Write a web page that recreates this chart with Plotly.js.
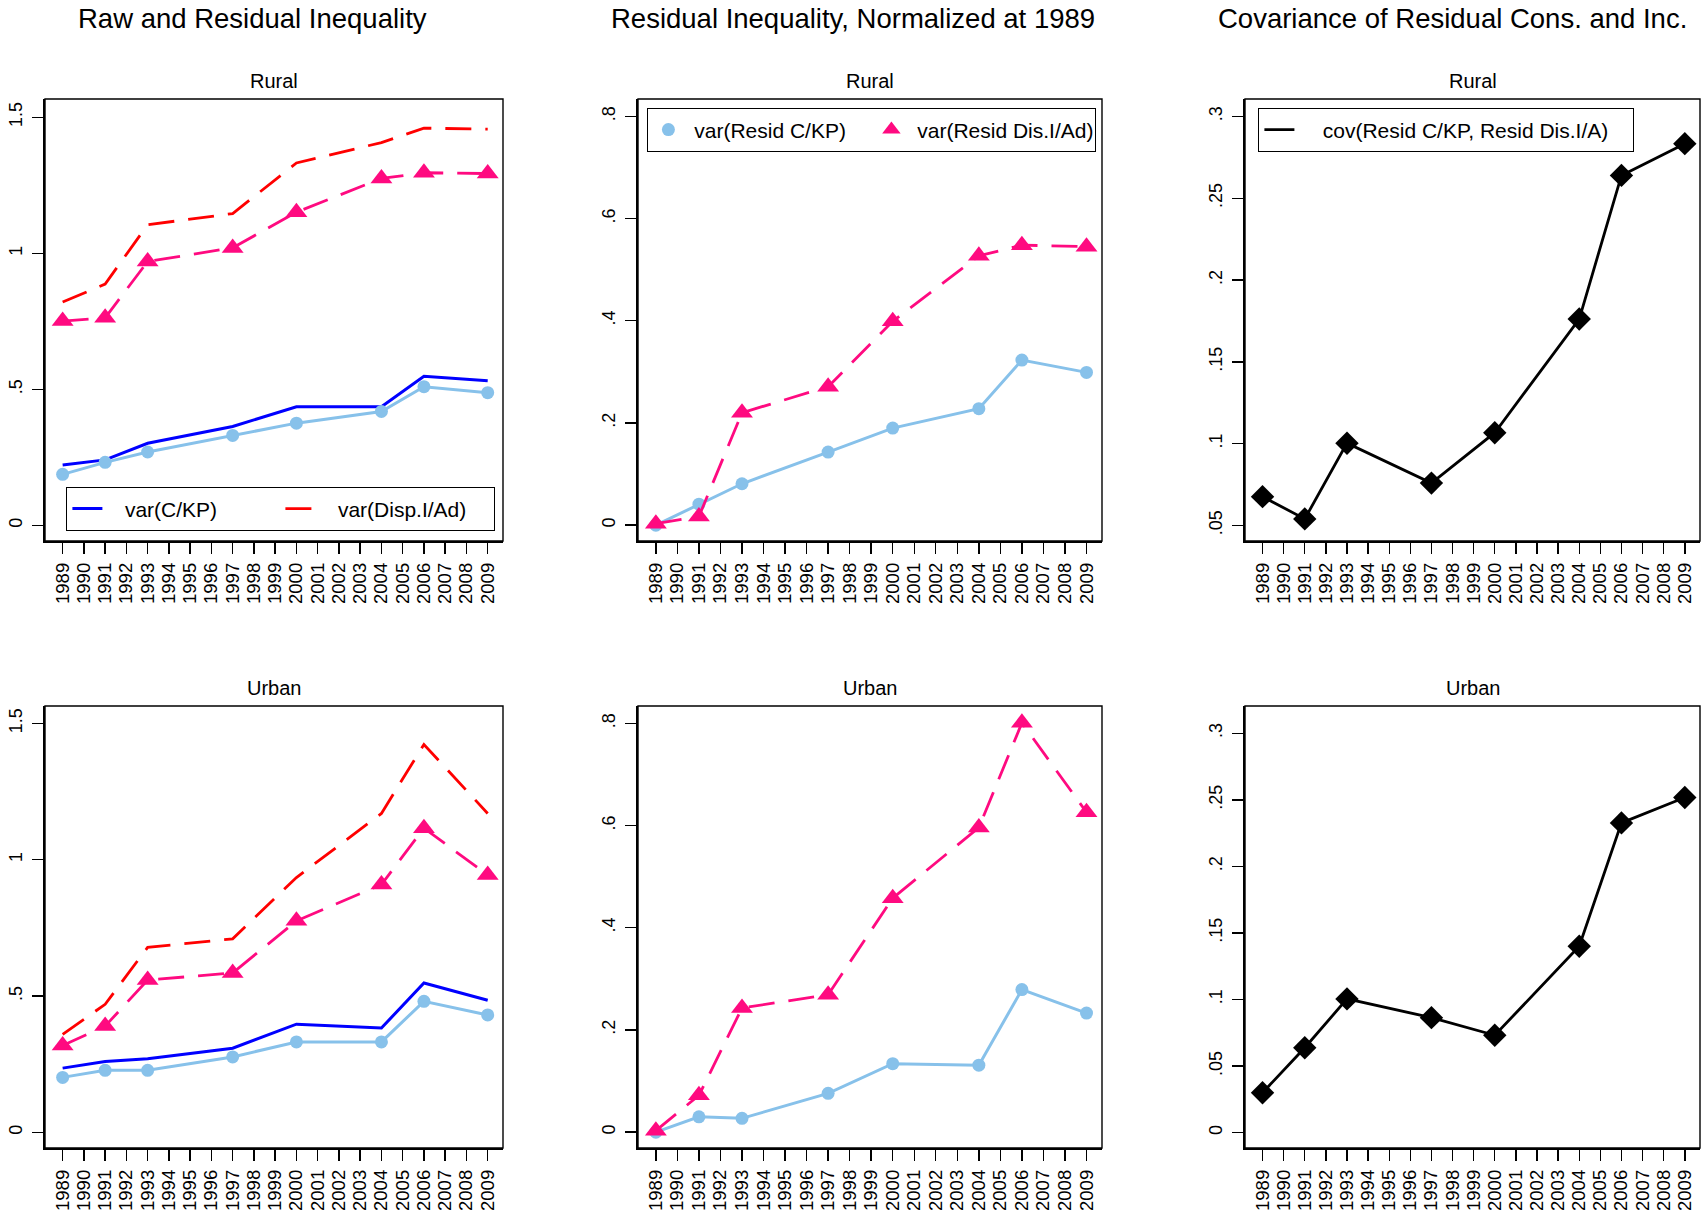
<!DOCTYPE html>
<html>
<head>
<meta charset="utf-8">
<script src="https://cdn.plot.ly/plotly-3.0.1.min.js"></script>
<style>html,body{margin:0;padding:0;background:#fff;}#chart{width:1708px;height:1215px;}</style>
</head>
<body>
<div id="chart"></div>
<script>
// ---- data ----
const years = [1989, 1991, 1993, 1997, 2000, 2004, 2006, 2009];
const tickYears = [1989,1990,1991,1992,1993,1994,1995,1996,1997,1998,1999,2000,2001,2002,2003,2004,2005,2006,2007,2008,2009];
const tickYearLabels = ["1989","1990","1991","1992","1993","1994","1995","1996","1997","1998","1999","2000","2001","2002","2003","2004","2005","2006","2007","2008","2009"];

const ruralVarC      = [0.222, 0.241, 0.302, 0.364, 0.436, 0.436, 0.548, 0.532];
const ruralVarCResid = [0.188, 0.232, 0.270, 0.331, 0.376, 0.419, 0.510, 0.488];
const ruralVarI      = [0.821, 0.887, 1.105, 1.146, 1.332, 1.407, 1.460, 1.456];
const ruralVarIResid = [0.751, 0.763, 0.970, 1.020, 1.151, 1.275, 1.296, 1.293];
const ruralNormC     = [0.000, 0.041, 0.081, 0.143, 0.190, 0.228, 0.323, 0.299];
const ruralNormI     = [0.003, 0.017, 0.220, 0.271, 0.399, 0.527, 0.548, 0.545];
const ruralCov       = [0.0676, 0.0540, 0.1003, 0.0759, 0.1067, 0.1762, 0.2640, 0.2834];

const urbanVarC      = [0.236, 0.260, 0.270, 0.309, 0.397, 0.383, 0.548, 0.485];
const urbanVarCResid = [0.202, 0.228, 0.228, 0.277, 0.332, 0.332, 0.481, 0.431];
const urbanVarI      = [0.360, 0.470, 0.679, 0.710, 0.935, 1.170, 1.423, 1.170];
const urbanVarIResid = [0.319, 0.390, 0.559, 0.585, 0.776, 0.909, 1.116, 0.944];
const urbanNormC     = [0.000, 0.030, 0.027, 0.076, 0.134, 0.131, 0.279, 0.233];
const urbanNormI     = [0.003, 0.072, 0.243, 0.269, 0.458, 0.596, 0.801, 0.626];
const urbanCov       = [0.0300, 0.0638, 0.1005, 0.0864, 0.0732, 0.1400, 0.2327, 0.2518];

const rawTickVals = [0, 0.5, 1, 1.5];      const rawTickText = ["0", ".5", "1", "1.5"];
const normTickVals = [0, 0.2, 0.4, 0.6, 0.8]; const normTickText = ["0", ".2", ".4", ".6", ".8"];
const covRuralTickVals = [0.05, 0.1, 0.15, 0.2, 0.25, 0.3]; const covRuralTickText = [".05", ".1", ".15", ".2", ".25", ".3"];
const covUrbanTickVals = [0, 0.05, 0.1, 0.15, 0.2, 0.25, 0.3]; const covUrbanTickText = ["0", ".05", ".1", ".15", ".2", ".25", ".3"];

const mainTitles = ["Raw and Residual Inequality", "Residual Inequality, Normalized at 1989", "Covariance of Residual Cons. and Inc."];
const legendNames = {
  varC: "var(C/KP)", varI: "var(Disp.I/Ad)",
  normC: "var(Resid C/KP)", normI: "var(Resid Dis.I/Ad)",
  cov: "cov(Resid C/KP, Resid Dis.I/A)"
};

// ---- styles ----
const BLUE = "#0000ff", LTBLUE = "#87c1ea", RED = "#ff0000", PINK = "#ff0a80";
const FONT = "Liberation Sans, Arial, sans-serif";
const DASH = "26px,14px";
const NB = "\u00a0";
function pad(n) { return NB.repeat(n); }

function blueLine(x, y, ax, leg) {
  return {x, y, xaxis: "x"+ax, yaxis: "y"+ax, mode: "lines", name: pad(3) + legendNames.varC,
    line: {color: BLUE, width: 3}, showlegend: !!leg, legend: "legend"};
}
function ltLine(x, y, ax, name) {
  return {x, y, xaxis: "x"+ax, yaxis: "y"+ax, mode: "lines+markers", name: name, showlegend: false,
    line: {color: LTBLUE, width: 3}, marker: {color: LTBLUE, size: 13, symbol: "circle"}};
}
function redLine(x, y, ax, leg) {
  return {x, y, xaxis: "x"+ax, yaxis: "y"+ax, mode: "lines", name: pad(3) + legendNames.varI,
    line: {color: RED, width: 2.8, dash: DASH}, showlegend: !!leg, legend: "legend"};
}
function pinkLine(x, y, ax, name) {
  return {x, y, xaxis: "x"+ax, yaxis: "y"+ax, mode: "lines+markers", name: name, showlegend: false,
    line: {color: PINK, width: 2.8, dash: DASH}, marker: {color: PINK, size: 19, symbol: "triangle-up"}};
}
function covLine(x, y, ax) {
  return {x, y, xaxis: "x"+ax, yaxis: "y"+ax, mode: "lines+markers", name: legendNames.cov, showlegend: false,
    line: {color: "#000", width: 2.8}, marker: {color: "#000", size: 18, symbol: "diamond"}};
}

const traces = [
  blueLine(years, ruralVarC, 1, true),
  redLine(years, ruralVarI, 1, true),
  ltLine(years, ruralVarCResid, 1, "resid C"),
  pinkLine(years, ruralVarIResid, 1, "resid I"),
  ltLine(years, ruralNormC, 2, legendNames.normC),
  pinkLine(years, ruralNormI, 2, legendNames.normI),
  covLine(years, ruralCov, 3),
  blueLine(years, urbanVarC, 4, false),
  redLine(years, urbanVarI, 4, false),
  ltLine(years, urbanVarCResid, 4, "resid C"),
  pinkLine(years, urbanVarIResid, 4, "resid I"),
  ltLine(years, urbanNormC, 5, legendNames.normC),
  pinkLine(years, urbanNormI, 5, legendNames.normI),
  covLine(years, urbanCov, 6),
  // legend-only entries
  {x: [null], y: [null], xaxis: "x2", yaxis: "y2", mode: "markers", name: pad(1) + legendNames.normC, legend: "legend2",
    marker: {color: LTBLUE, size: 13, symbol: "circle"}},
  {x: [null], y: [null], xaxis: "x2", yaxis: "y2", mode: "markers", name: pad(1) + legendNames.normI, legend: "legend2",
    marker: {color: PINK, size: 19, symbol: "triangle-up"}},
  {x: [null], y: [null], xaxis: "x3", yaxis: "y3", mode: "lines", name: pad(4) + legendNames.cov, legend: "legend3",
    line: {color: "#000", width: 2.8}}
];

// ---- layout ----
const W = 1708, H = 1215;
const colX = [[45, 503], [638, 1102], [1245, 1700]];
const rowY = [[99, 541], [706, 1148]];
const xr = [1988.17, 2009.72];
const yRanges = [[-0.057, 1.567], [-0.031, 0.834], [0.0405, 0.3107], [-0.057, 1.564], [-0.031, 0.834], [-0.0115, 0.3205]];
const yTicks = [[rawTickVals, rawTickText], [normTickVals, normTickText], [covRuralTickVals, covRuralTickText],
                [rawTickVals, rawTickText], [normTickVals, normTickText], [covUrbanTickVals, covUrbanTickText]];

const layout = {
  width: W, height: H, margin: {l: 0, r: 0, t: 0, b: 0},
  paper_bgcolor: "#fff", plot_bgcolor: "#fff",
  font: {family: FONT, color: "#000"},
  annotations: [], shapes: []
};

const titleX = [252, 853, 1452];
for (let c = 0; c < 3; c++) {
  layout.annotations.push({text: mainTitles[c], x: titleX[c] / W, y: 1 - 19 / H, xref: "paper", yref: "paper",
    xanchor: "center", yanchor: "middle", showarrow: false, font: {size: 27.5, family: FONT, color: "#000"}});
}

for (let r = 0; r < 2; r++) {
  for (let c = 0; c < 3; c++) {
    const i = r * 3 + c + 1;
    const sfx = i === 1 ? "" : String(i);
    const xd = [colX[c][0] / W, colX[c][1] / W];
    const yd = [1 - rowY[r][1] / H, 1 - rowY[r][0] / H];
    layout["xaxis" + sfx] = {
      domain: xd, range: xr, anchor: "y" + i, showgrid: false, zeroline: false,
      showline: true, linecolor: "#000", linewidth: 2.4,
      ticks: "outside", ticklen: 11, tickwidth: 1.4, tickcolor: "#000",
      tickvals: tickYears, ticktext: tickYearLabels, tickangle: -90,
      tickfont: {size: 18.5, family: FONT, color: "#000"}, ticklabelstandoff: 1, fixedrange: true
    };
    layout["yaxis" + sfx] = {
      domain: yd, range: yRanges[i - 1], anchor: "x" + i, showgrid: false, zeroline: false,
      showline: true, linecolor: "#000", linewidth: 2.4,
      ticks: "outside", ticklen: 11, tickwidth: 1.4, tickcolor: "#000",
      tickvals: yTicks[i - 1][0], ticktext: yTicks[i - 1][1], tickangle: -90,
      tickfont: {size: 18, family: FONT, color: "#000"}, ticklabelstandoff: 2, fixedrange: true
    };
    layout.shapes.push({type: "rect", xref: "x" + sfx + " domain", yref: "y" + sfx + " domain",
      x0: 0, x1: 1, y0: 0, y1: 1, line: {color: "#000", width: 1.4}, fillcolor: "rgba(0,0,0,0)"});
    layout.annotations.push({text: r === 0 ? "Rural" : "Urban", x: (xd[0] + xd[1]) / 2, y: yd[1], xref: "paper", yref: "paper",
      xanchor: "center", yanchor: "bottom", yshift: 5, showarrow: false, font: {size: 20, family: FONT, color: "#000"}});
  }
}

const legBase = {bgcolor: "#fff", bordercolor: "#000", borderwidth: 1.4, orientation: "h",
  font: {size: 21, family: FONT, color: "#000"}, entrywidthmode: "pixels", itemwidth: 30, xanchor: "left"};
layout.legend = Object.assign({}, legBase, {x: 66 / W, y: 1 - 531 / H, yanchor: "bottom", entrywidth: 168});
layout.legend2 = Object.assign({}, legBase, {x: 647 / W, y: 1 - 108 / H, yanchor: "top", entrywidth: 178});
layout.legend3 = Object.assign({}, legBase, {x: 1258 / W, y: 1 - 108 / H, yanchor: "top", entrywidth: 328});

Plotly.newPlot("chart", traces, layout, {staticPlot: true, displayModeBar: false});
</script>
</body>
</html>
